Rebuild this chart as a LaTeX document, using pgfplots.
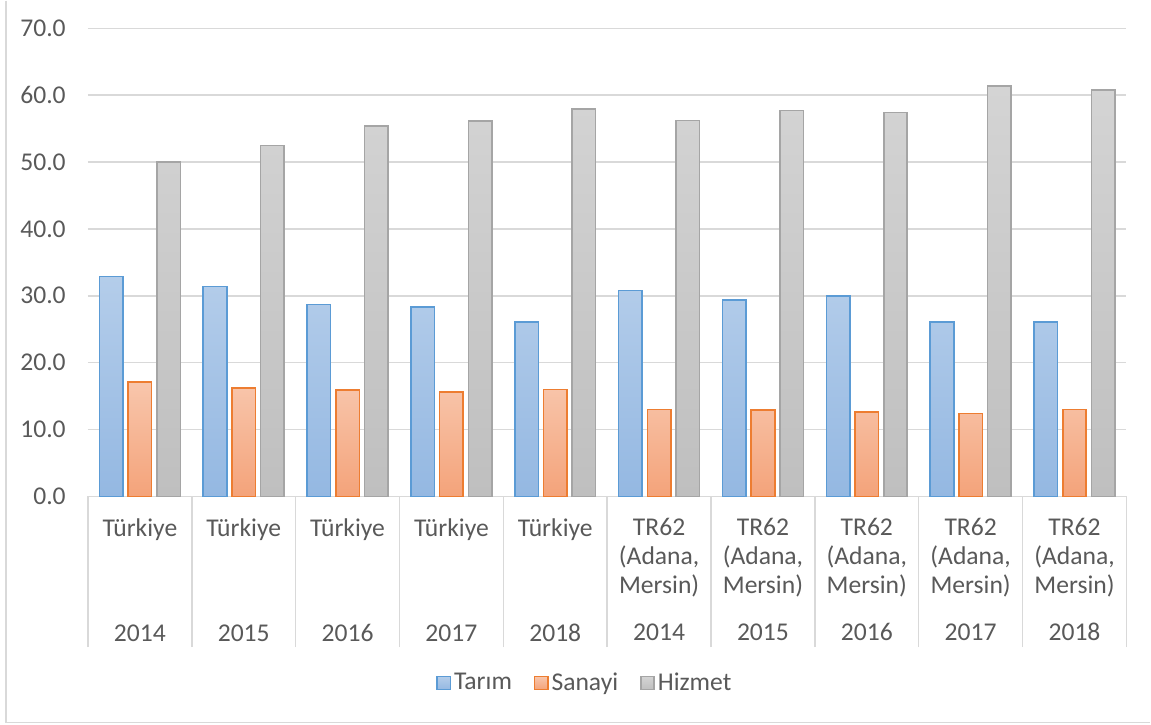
\documentclass[border=0pt]{standalone}
\usepackage{fontspec}
\setmainfont{Carlito}
\usepackage{pgfplots}
\pgfplotsset{compat=1.18}

\definecolor{txt}{HTML}{595959}
\definecolor{gridgray}{HTML}{D9D9D9}
\definecolor{tarimline}{HTML}{5B9BD5}
\definecolor{tarimtop}{HTML}{B4CDEA}
\definecolor{tarimbot}{HTML}{94B8E2}
\definecolor{sanayiline}{HTML}{ED7D31}
\definecolor{sanayitop}{HTML}{F8C6AC}
\definecolor{sanayibot}{HTML}{F4A37A}
\definecolor{hizmetline}{HTML}{A5A5A5}
\definecolor{hizmettop}{HTML}{D4D4D4}
\definecolor{hizmetbot}{HTML}{BFBFBF}

\newcommand{\lblfont}{\fontsize{12.8}{14.5}\selectfont}

\begin{document}
\begin{tikzpicture}
\path (0,0) rectangle (575.5pt,362pt);
\draw[gridgray, line width=0.6pt] (3pt,362pt) -- (3pt,1pt) -- (575.5pt,1pt);
\begin{axis}[
    at={(44pt,114pt)}, anchor=south west,
    scale only axis,
    width=519.5pt, height=234.15pt,
    ybar=2.6pt, bar width=11.75pt,
    xmin=-0.5, xmax=9.5,
    ymin=0, ymax=70,
    axis x line*=bottom, axis y line*=left,
    x axis line style={gridgray, line width=0.75pt},
    y axis line style={draw=none},
    ytick={0,10,...,70},
    yticklabel={\pgfmathprintnumber[fixed,fixed zerofill,precision=1,assume math mode=true]{\tick}},
    yticklabel style={font=\lblfont, text=txt, xshift=-7.6pt},
    ymajorgrids, grid style={gridgray, line width=0.75pt},
    xtick={0,...,9},
    xticklabels={{Türkiye\\[38pt]2014},{Türkiye\\[38pt]2015},{Türkiye\\[38pt]2016},{Türkiye\\[38pt]2017},{Türkiye\\[38pt]2018},
        {TR62\\(Adana,\\Mersin)\\[9pt]2014},{TR62\\(Adana,\\Mersin)\\[9pt]2015},{TR62\\(Adana,\\Mersin)\\[9pt]2016},
        {TR62\\(Adana,\\Mersin)\\[9pt]2017},{TR62\\(Adana,\\Mersin)\\[9pt]2018}},
    xticklabel style={font=\lblfont, text=txt, align=center, anchor=north, yshift=-7.5pt},
    minor xtick={-0.5,0.5,...,9.5},
    tick align=outside,
    major tick length=0pt,
    minor tick length=75.4pt,
    minor tick style={gridgray, line width=0.75pt},
    legend image code/.code={\draw[#1, line width=0.7pt] (0pt,-3.3pt) rectangle (6.6pt,3.3pt);},
    legend columns=3,
    legend style={at={(0.479,-0.399)}, anchor=center, draw=none, font=\lblfont, text=txt,
        /tikz/every even column/.append style={column sep=9.5pt},
        nodes={inner xsep=1.5pt}},
]
\addplot[draw=tarimline, line width=0.8pt, top color=tarimtop, bottom color=tarimbot] coordinates {
    (0,32.9) (1,31.4) (2,28.7) (3,28.3) (4,26.1)
    (5,30.8) (6,29.4) (7,30.0) (8,26.1) (9,26.1)
};
\addlegendentry{Tarım}
\addplot[draw=sanayiline, line width=0.8pt, top color=sanayitop, bottom color=sanayibot] coordinates {
    (0,17.1) (1,16.2) (2,15.9) (3,15.6) (4,16.0)
    (5,13.0) (6,12.9) (7,12.6) (8,12.4) (9,13.0)
};
\addlegendentry{Sanayi}
\addplot[draw=hizmetline, line width=0.8pt, top color=hizmettop, bottom color=hizmetbot] coordinates {
    (0,50.0) (1,52.5) (2,55.4) (3,56.1) (4,57.9)
    (5,56.2) (6,57.7) (7,57.4) (8,61.4) (9,60.8)
};
\addlegendentry{Hizmet}
\end{axis}
\end{tikzpicture}
\end{document}
